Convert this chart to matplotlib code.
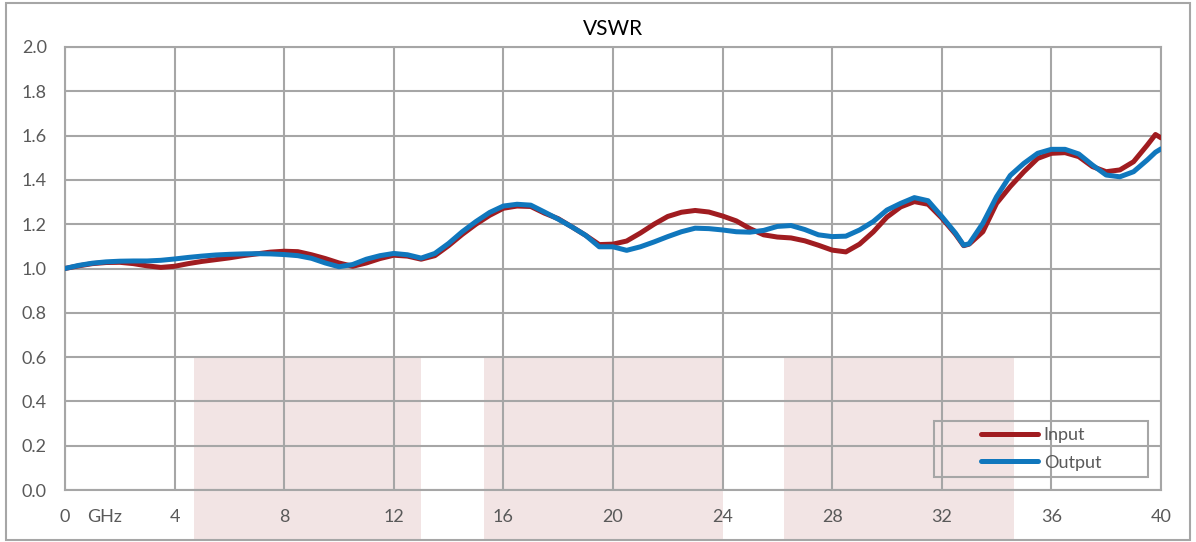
import matplotlib.pyplot as plt
from matplotlib.patches import Rectangle

plt.rcParams['font.family'] = ['Lato', 'DejaVu Sans']

# frequency points (GHz)
freq = [0, 0.5, 1, 1.5, 2, 2.5, 3, 3.5, 4, 4.5, 5, 5.5, 6, 6.5, 7, 7.5, 8, 8.5, 9, 9.5,
        10, 10.5, 11, 11.5, 12, 12.5, 13, 13.5, 14, 14.5, 15, 15.5, 16, 16.5, 17, 17.5,
        18, 18.5, 19, 19.5, 20, 20.5, 21, 21.5, 22, 22.5, 23, 23.5, 24, 24.5, 25, 25.5,
        26, 26.5, 27, 27.5, 28, 28.5, 29, 29.5, 30, 30.5, 31, 31.5, 32, 32.5, 32.8, 33,
        33.5, 34, 34.5, 35, 35.5, 36, 36.5, 37, 37.5, 38, 38.5, 39, 39.5, 39.8, 40]

vswr_input = [1.000, 1.012, 1.022, 1.027, 1.028, 1.022, 1.012, 1.005, 1.010, 1.022,
              1.032, 1.040, 1.048, 1.058, 1.066, 1.074, 1.078, 1.076, 1.062, 1.045,
              1.025, 1.010, 1.025, 1.045, 1.060, 1.056, 1.042, 1.058, 1.103, 1.154,
              1.200, 1.240, 1.272, 1.282, 1.280, 1.250, 1.225, 1.188, 1.150, 1.108,
              1.110, 1.124, 1.160, 1.200, 1.235, 1.254, 1.262, 1.255, 1.237, 1.215,
              1.180, 1.152, 1.142, 1.138, 1.125, 1.105, 1.083, 1.075, 1.110, 1.165,
              1.232, 1.278, 1.302, 1.290, 1.228, 1.155, 1.103, 1.110,
              1.166, 1.294, 1.370, 1.437, 1.497, 1.520, 1.523, 1.505, 1.460, 1.437,
              1.445, 1.482, 1.557, 1.605, 1.590]

vswr_output = [1.000, 1.014, 1.024, 1.030, 1.033, 1.034, 1.034, 1.037, 1.043, 1.050,
               1.056, 1.061, 1.064, 1.066, 1.067, 1.066, 1.063, 1.058, 1.046, 1.025,
               1.008, 1.018, 1.042, 1.058, 1.068, 1.062, 1.047, 1.068, 1.113, 1.166,
               1.212, 1.253, 1.282, 1.290, 1.286, 1.255, 1.223, 1.188, 1.150, 1.098,
               1.098, 1.082, 1.098, 1.120, 1.144, 1.166, 1.182, 1.180, 1.174, 1.166,
               1.164, 1.172, 1.190, 1.194, 1.176, 1.152, 1.144, 1.146, 1.174, 1.212,
               1.264, 1.294, 1.320, 1.306, 1.235, 1.160, 1.105, 1.112,
               1.204, 1.324, 1.420, 1.475, 1.520, 1.538, 1.538, 1.517, 1.467, 1.422,
               1.414, 1.437, 1.490, 1.525, 1.540]

# shaded frequency bands (GHz)
band_start = [4.7, 15.3, 26.25]
band_end = [13.0, 24.0, 34.65]

xticks = list(range(0, 41, 4))
yticks = [0.0, 0.2, 0.4, 0.6, 0.8, 1.0, 1.2, 1.4, 1.6, 1.8, 2.0]

grid_col = '#a6a6a6'
text_col = '#595959'

fig = plt.figure(figsize=(11.96, 5.42), dpi=100)
ax = fig.add_axes([0.0543, 0.0959, 0.9164, 0.8174])

for s, e in zip(band_start, band_end):
    ax.axvspan(s, e, ymin=-0.113, ymax=0.3, color='#f2e4e4', lw=0, clip_on=False, zorder=1)

ax.plot(freq, vswr_input, color='#a01c20', lw=3.6, label='Input', solid_capstyle='round', zorder=3)
ax.plot(freq, vswr_output, color='#1077bd', lw=3.6, label='Output', solid_capstyle='round', zorder=4)

ax.set_xlim(0, 40)
ax.set_ylim(0, 2.0)
ax.set_xticks(xticks)
ax.set_yticks(yticks)
ax.set_yticklabels(['%.1f' % v for v in yticks])
ax.tick_params(axis='both', length=0, labelsize=13, labelcolor=text_col)
ax.tick_params(axis='x', pad=14)
ax.tick_params(axis='y', pad=13)
ax.grid(True, color=grid_col, lw=1.5)
for sp in ax.spines.values():
    sp.set_color(grid_col)
    sp.set_linewidth(1.5)

ax.text(1.45, -0.061, 'GHz', transform=ax.get_xaxis_transform(), ha='center', va='center',
        fontsize=13, color=text_col)

ax.set_title('VSWR', fontsize=15, color='#000000', pad=8.5)

# legend box drawn separately, entries inside
fig.patches.append(Rectangle((934 / 1196, 1 - 477 / 542), 214 / 1196, 56 / 542,
                             transform=fig.transFigure, fill=False, ec=grid_col, lw=1.5))
leg = fig.legend(loc='center', bbox_to_anchor=(1041 / 1196, 1 - 449 / 542), frameon=False,
                 fontsize=13, handlelength=3.2, handletextpad=0.3, labelspacing=0.62,
                 borderpad=0)
for t in leg.get_texts():
    t.set_color(text_col)

# outer border
fig.patches.append(Rectangle((0.005, 0.004), 0.990, 0.990, transform=fig.transFigure,
                             fill=False, ec=grid_col, lw=1.5))

plt.savefig('out.png', dpi=100)
